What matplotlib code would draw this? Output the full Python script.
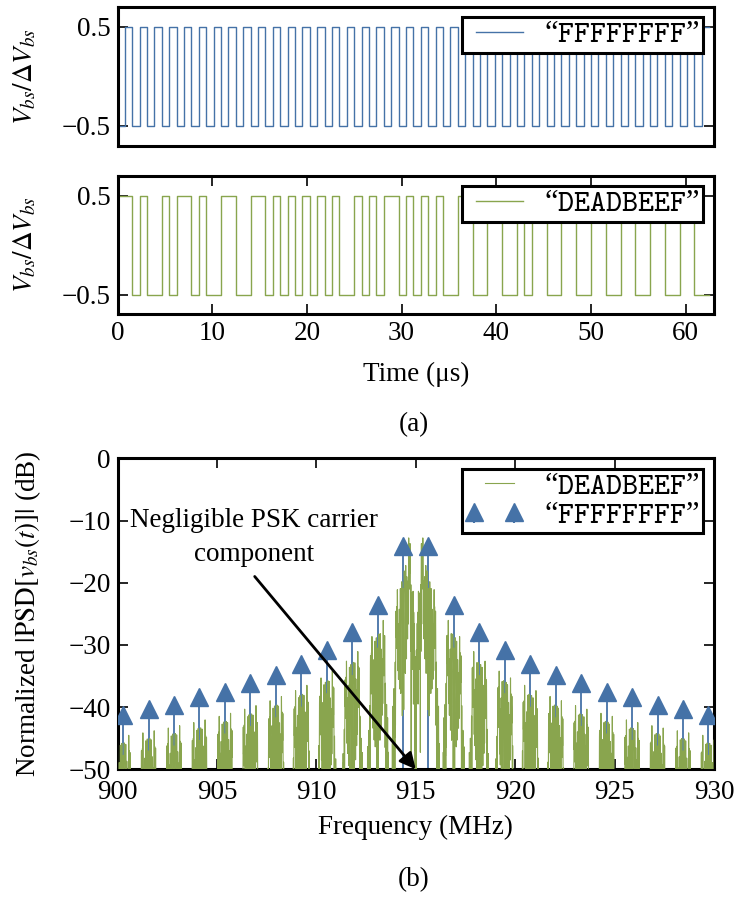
import numpy as np
import matplotlib
matplotlib.use('Agg')
from matplotlib import pyplot as plt
from matplotlib.font_manager import FontProperties
from matplotlib.container import StemContainer
from matplotlib.lines import Line2D
from matplotlib.legend_handler import HandlerStem, HandlerLine2D

plt.rcParams.update({
    'font.family': 'Liberation Serif',
    'mathtext.fontset': 'stix',
    'font.size': 19.5,
    'axes.linewidth': 2.2,
    'xtick.direction': 'in', 'ytick.direction': 'in',
    'xtick.top': True, 'ytick.right': True,
    'xtick.major.size': 7, 'ytick.major.size': 7,
    'xtick.major.width': 1.2, 'ytick.major.width': 1.2,
    'xtick.major.pad': 5, 'ytick.major.pad': 5,
    'legend.fancybox': False, 'legend.edgecolor': 'black', 'legend.framealpha': 1,
})

BLUE = '#4572A7'
GREEN = '#89A54E'

# backscatter waveforms, one character per half-bit slot (1 -> +0.5, 0 -> -0.5)
slot_us = 0.78125
wave_ffffffff = ('0101010101' '0101010101' '0101010101' '0101010101'
                 '0101010101' '0101010101' '0101010101' '0101010101')
wave_deadbeef = ('1101001011' '0100110011' '0101010101' '0010101101'
                 '0101001100' '1100101100' '1100110011' '0011001100')

# "FFFFFFFF" spectral lines: offset from the 915 MHz carrier (MHz) and level (dB)
carrier_mhz = 915.0
line_offsets = [0.64, 1.92, 3.20, 4.48, 5.76, 7.04, 8.32, 9.60, 10.88, 12.16, 13.44, 14.72]
line_levels = [-14.1, -23.6, -28.0, -30.9, -33.0, -34.9, -36.1, -37.5, -38.4, -39.6, -40.3, -41.2]
deadbeef_peak_db = -12.8

label_ff = '\u201c$\\mathtt{FFFFFFFF}$\u201d'
label_db = '\u201c$\\mathtt{DEADBEEF}$\u201d'


def to_levels(s):
    return np.array([int(c) for c in s]) - 0.5


def step_xy(s):
    lv = to_levels(s)
    t = np.arange(len(lv) + 1) * slot_us
    return t, np.append(lv, lv[-1])


fig = plt.figure(figsize=(7.39, 8.98), dpi=100)
W, H = 739, 898


def axes_px(left, top, right, bottom):
    return fig.add_axes([left / W, 1 - bottom / H, (right - left) / W, (bottom - top) / H])


ax1 = axes_px(117.5, 6.7, 714, 145.7)
ax2 = axes_px(117.5, 175.7, 714, 314.3)
ax3 = axes_px(117.5, 458.3, 714, 769.3)

legfont = FontProperties(family='Liberation Serif', size=22, math_fontfamily='cm')
leg_kw = dict(loc='upper right', prop=legfont, handlelength=1.9, handletextpad=0.7,
              borderpad=0.1, borderaxespad=0.35, labelspacing=0.0,
              handler_map={Line2D: HandlerLine2D(xpad=0.36),
                           StemContainer: HandlerStem(yoffsets=[0.5, 0.5])})

t, y = step_xy(wave_ffffffff)
ax1.step(t, y, where='post', color=BLUE, lw=1.0, label=label_ff)
t, y = step_xy(wave_deadbeef)
ax2.step(t, y, where='post', color=GREEN, lw=1.0, label=label_db)

for ax in (ax1, ax2):
    ax.set_xlim(0, 63)
    ax.set_ylim(-0.7, 0.7)
    ax.set_yticks([-0.5, 0.5])
    ax.set_yticklabels(['\u22120.5', '0.5'])
    ax.set_ylabel(r'$V_{bs}/\Delta V_{bs}$')
    ax.yaxis.set_label_coords(-0.133, 0.5)
    ax.legend(**leg_kw).get_frame().set_linewidth(2.2)
ax1.set_xticks([])
ax2.set_xticks(range(0, 61, 10))
ax2.set_xlabel('Time (\u03bcs)', labelpad=11)

# spectrum of the DEADBEEF waveform around the carrier
spp = 64
v = np.repeat(to_levels(wave_deadbeef), spp)
nfft = 2 ** 16
X = np.fft.fftshift(np.fft.fft(v, nfft))
f = np.fft.fftshift(np.fft.fftfreq(nfft, d=slot_us / spp)) + carrier_mhz
psd = 20 * np.log10(np.abs(X) + 1e-9)
psd += deadbeef_peak_db - psd.max()
keep = (f >= 899.5) & (f <= 930.5)

off = np.array(line_offsets)
lvl = np.array(line_levels)
f_lines = np.concatenate([carrier_mhz - off[::-1], carrier_mhz + off])
db_lines = np.concatenate([lvl[::-1], lvl])

ax3.plot(f[keep], psd[keep], color=GREEN, lw=0.8, label=label_db, zorder=3)
sc = ax3.stem(f_lines, db_lines, bottom=-60, label=label_ff, basefmt=' ')
sc.markerline.set(marker='^', markersize=13.5, color=BLUE, zorder=4)
sc.stemlines.set(color=BLUE, linewidth=1.3, zorder=2)

ax3.set_xlim(900, 930)
ax3.set_ylim(-50, 0)
ax3.set_xticks(range(900, 931, 5))
ax3.set_yticks(range(-50, 1, 10))
ax3.set_yticklabels(['\u221250', '\u221240', '\u221230', '\u221220', '\u221210', '0'])
ax3.tick_params(axis='x', pad=8)
ax3.set_xlabel('Frequency (MHz)', labelpad=7)
ax3.set_ylabel(r'Normalized $|\mathrm{PSD}[v_{bs}(t)]|$ (dB)')
ax3.yaxis.set_label_coords(-0.125, 0.5)
leg = ax3.legend(numpoints=2, **leg_kw)
leg.get_frame().set_linewidth(2.2)

ax3.text(906.85, -12.7, 'Negligible PSK carrier\ncomponent', ha='center', va='center',
         linespacing=1.5, zorder=6)
ax3.annotate('', xy=(915, -50), xytext=(906.9, -19.0), annotation_clip=False,
             arrowprops=dict(arrowstyle='-|>', color='k', lw=2, mutation_scale=24,
                             shrinkA=0, shrinkB=0), zorder=6)

fig.text(414 / W, 1 - 425 / H, '(a)', ha='center', va='center')
fig.text(414 / W, 1 - 880 / H, '(b)', ha='center', va='center')

fig.savefig('out.png', dpi=100)
